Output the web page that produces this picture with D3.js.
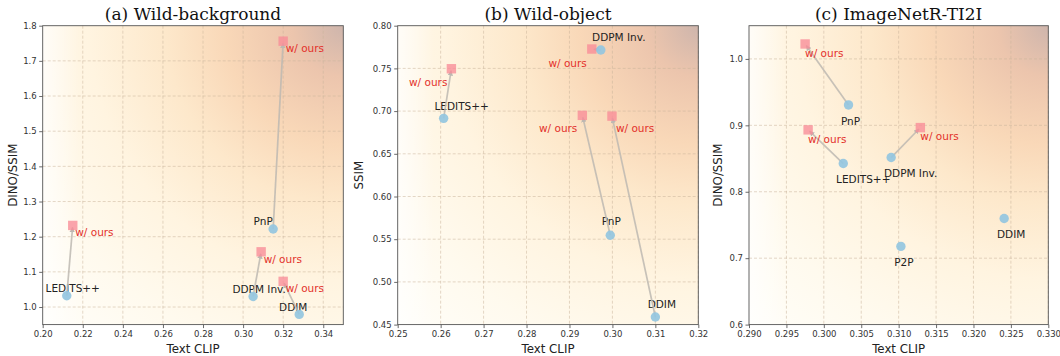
<!DOCTYPE html>
<html>
<head>
<meta charset="utf-8">
<script src="https://cdn.jsdelivr.net/npm/d3@7"></script>
<style>
  body { margin: 0; background: #fff; }
  svg { display: block; }
</style>
</head>
<body>
<svg id="chart" width="1060" height="356"></svg>
<script>
// (a) Wild-background
var methodsA = ['LEDITS++', 'PnP', 'DDPM Inv.', 'DDIM'];
var baseClipA = [0.212, 0.315, 0.305, 0.328];
var baseDinoA = [1.032, 1.222, 1.030, 0.979];
var oursClipA = [0.215, 0.320, 0.309, 0.320];
var oursDinoA = [1.232, 1.756, 1.157, 1.073];
var xTicksA = [0.20, 0.22, 0.24, 0.26, 0.28, 0.30, 0.32, 0.34];
var yTicksA = [1.0, 1.1, 1.2, 1.3, 1.4, 1.5, 1.6, 1.7, 1.8];

// (b) Wild-object
var methodsB = ['LEDITS++', 'DDPM Inv.', 'PnP', 'DDIM'];
var baseClipB = [0.2607, 0.2973, 0.2995, 0.3100];
var baseSsimB = [0.6915, 0.7715, 0.5546, 0.4589];
var oursClipB = [0.2625, 0.2952, 0.2930, 0.2999];
var oursSsimB = [0.7496, 0.7727, 0.6950, 0.6941];
var xTicksB = [0.25, 0.26, 0.27, 0.28, 0.29, 0.30, 0.31, 0.32];
var yTicksB = [0.45, 0.50, 0.55, 0.60, 0.65, 0.70, 0.75, 0.80];

// (c) ImageNetR-TI2I
var methodsC = ['PnP', 'LEDITS++', 'DDPM Inv.', 'P2P', 'DDIM'];
var baseClipC = [0.3033, 0.3026, 0.3090, 0.3103, 0.3241];
var baseDinoC = [0.9307, 0.8425, 0.8515, 0.7177, 0.7598];
var oursClipC = [0.2975, 0.2979, 0.3129, null, null];
var oursDinoC = [1.0225, 0.8932, 0.8966, null, null];
var xTicksC = [0.290, 0.295, 0.300, 0.305, 0.310, 0.315, 0.320, 0.325, 0.330];
var yTicksC = [0.6, 0.7, 0.8, 0.9, 1.0];

var oursLabel = 'w/ ours';

// label placement (pixel offsets from the marker)
var panels = [
  {
    title: '(a) Wild-background', ylabel: 'DINO/SSIM',
    left: 42.7, right: 343.3, ylabelOff: 30,
    xDomain: [0.20, 0.35], yDomain: [0.95, 1.8],
    xTicks: xTicksA, yTicks: yTicksA, xFmt: '.2f', yFmt: '.1f',
    names: methodsA, bx: baseClipA, by: baseDinoA, ox: oursClipA, oy: oursDinoA,
    nameOff: [[6, -3.5, 'middle'], [-10, -3.5, 'middle'], [6, -3.5, 'middle'], [-6, -3.5, 'middle']],
    oursOff: [[2.5, 11, 'start'], [2.5, 11, 'start'], [2.5, 11, 'start'], [2.5, 11, 'start']]
  },
  {
    title: '(b) Wild-object', ylabel: 'SSIM',
    left: 397.7, right: 698.3, ylabelOff: 38.5,
    xDomain: [0.25, 0.32], yDomain: [0.45, 0.80],
    xTicks: xTicksB, yTicks: yTicksB, xFmt: '.2f', yFmt: '.2f',
    names: methodsB, bx: baseClipB, by: baseSsimB, ox: oursClipB, oy: oursSsimB,
    nameOff: [[18, -8, 'middle'], [18, -9, 'middle'], [1, -10, 'middle'], [6.5, -8.5, 'middle']],
    oursOff: [[-4, 17, 'end'], [-5, 18, 'end'], [-5, 17, 'end'], [4, 16, 'start']]
  },
  {
    title: '(c) ImageNetR-TI2I', ylabel: 'DINO/SSIM',
    left: 749, right: 1048.3, ylabelOff: 31,
    xDomain: [0.29, 0.33], yDomain: [0.6, 1.05],
    xTicks: xTicksC, yTicks: yTicksC, xFmt: '.3f', yFmt: '.1f',
    names: methodsC, bx: baseClipC, by: baseDinoC, ox: oursClipC, oy: oursDinoC,
    nameOff: [[2, 20, 'middle'], [20, 19.5, 'middle'], [19.5, 19, 'middle'], [3, 19.5, 'middle'], [7, 19.5, 'middle']],
    oursOff: [[0, 13, 'start'], [0, 12.7, 'start'], [0, 12.3, 'start']]
  }
];

var plotTop = 25.7, plotBottom = 324.6;

var svg = d3.select('#chart');
var defs = svg.append('defs');

defs.append('marker')
  .attr('id', 'arrow')
  .attr('viewBox', '0 0 10 10')
  .attr('refX', 9).attr('refY', 5)
  .attr('markerWidth', 3.2).attr('markerHeight', 3.2)
  .attr('markerUnits', 'strokeWidth')
  .attr('orient', 'auto')
  .append('path')
  .attr('d', 'M0,0 L10,5 L0,10 z')
  .attr('fill', '#bdb8b2');

panels.forEach(function (p, pi) {
  var w = p.right - p.left, h = plotBottom - plotTop;
  var x = d3.scaleLinear().domain(p.xDomain).range([p.left, p.right]);
  var y = d3.scaleLinear().domain(p.yDomain).range([plotBottom, plotTop]);

  // background wash
  var diag = Math.sqrt(w * w + h * h);
  var rg = defs.append('radialGradient')
    .attr('id', 'bg' + pi)
    .attr('gradientUnits', 'userSpaceOnUse')
    .attr('cx', p.right).attr('cy', plotTop).attr('r', diag);
  [[0, '#ceb5ac'], [0.12, '#ecc5ad'], [0.28, '#f9d8b8'], [0.42, '#fde8cb'], [0.6, '#fff4e0'], [0.8, '#fffaee'], [1, '#fffef9']]
    .forEach(function (s) { rg.append('stop').attr('offset', s[0]).attr('stop-color', s[1]); });
  var lg = defs.append('linearGradient').attr('id', 'edge' + pi)
    .attr('x1', 0).attr('x2', 1).attr('y1', 0).attr('y2', 0);
  lg.append('stop').attr('offset', 0).attr('stop-color', '#fff').attr('stop-opacity', 0.7);
  lg.append('stop').attr('offset', 0.12).attr('stop-color', '#fff').attr('stop-opacity', 0);

  var g = svg.append('g');
  g.append('rect').attr('x', p.left).attr('y', plotTop).attr('width', w).attr('height', h)
    .attr('fill', 'url(#bg' + pi + ')');
  g.append('rect').attr('x', p.left).attr('y', plotTop).attr('width', w).attr('height', h)
    .attr('fill', 'url(#edge' + pi + ')');

  // grid
  g.selectAll('.gx').data(p.xTicks.slice(1)).enter().append('line')
    .attr('x1', d => x(d)).attr('x2', d => x(d)).attr('y1', plotTop).attr('y2', plotBottom)
    .attr('stroke', '#c9b39a').attr('stroke-opacity', 0.65).attr('stroke-width', 0.8)
    .attr('stroke-dasharray', '3,2');
  g.selectAll('.gy').data(p.yTicks.filter(d => y(d) > plotTop + 1 && y(d) < plotBottom - 1)).enter().append('line')
    .attr('y1', d => y(d)).attr('y2', d => y(d)).attr('x1', p.left).attr('x2', p.right)
    .attr('stroke', '#c9b39a').attr('stroke-opacity', 0.65).attr('stroke-width', 0.8)
    .attr('stroke-dasharray', '3,2');

  // method labels
  p.names.forEach(function (n, i) {
    g.append('text')
      .attr('x', x(p.bx[i]) + p.nameOff[i][0])
      .attr('y', y(p.by[i]) + p.nameOff[i][1])
      .attr('text-anchor', p.nameOff[i][2])
      .attr('font-family', 'DejaVu Sans').attr('font-size', 10.5).attr('fill', '#222')
      .text(n);
  });

  // arrows base -> ours
  p.names.forEach(function (n, i) {
    if (p.ox[i] == null) return;
    var x1 = x(p.bx[i]), y1 = y(p.by[i]), x2 = x(p.ox[i]), y2 = y(p.oy[i]);
    var len = Math.sqrt((x2 - x1) * (x2 - x1) + (y2 - y1) * (y2 - y1));
    var k = (len - 2) / len;
    g.append('line')
      .attr('x1', x1).attr('y1', y1)
      .attr('x2', x1 + (x2 - x1) * k).attr('y2', y1 + (y2 - y1) * k)
      .attr('stroke', '#bdb8b2').attr('stroke-opacity', 0.85).attr('stroke-width', 1.7)
      .attr('marker-end', 'url(#arrow)');
  });

  // ours squares
  p.names.forEach(function (n, i) {
    if (p.ox[i] == null) return;
    g.append('rect')
      .attr('x', x(p.ox[i]) - 4.7).attr('y', y(p.oy[i]) - 4.7)
      .attr('width', 9.4).attr('height', 9.4)
      .attr('fill', '#f98c97').attr('fill-opacity', 0.78);
    g.append('text')
      .attr('x', x(p.ox[i]) + p.oursOff[i][0])
      .attr('y', y(p.oy[i]) + p.oursOff[i][1])
      .attr('text-anchor', p.oursOff[i][2])
      .attr('font-family', 'DejaVu Sans').attr('font-size', 10.5).attr('fill', '#e3312b')
      .text(oursLabel);
  });

  // base circles
  g.selectAll('.base').data(p.names).enter().append('circle')
    .attr('cx', (d, i) => x(p.bx[i])).attr('cy', (d, i) => y(p.by[i]))
    .attr('r', 4.7).attr('fill', '#94c5df').attr('fill-opacity', 0.92);

  // axes
  var xAxis = g.append('g').attr('transform', 'translate(0,' + plotBottom + ')')
    .call(d3.axisBottom(x).tickValues(p.xTicks).tickFormat(d3.format(p.xFmt)).tickSize(3.5).tickPadding(2.5));
  var yAxis = g.append('g').attr('transform', 'translate(' + p.left + ',0)')
    .call(d3.axisLeft(y).tickValues(p.yTicks).tickFormat(d3.format(p.yFmt)).tickSize(3.5).tickPadding(2.5));
  [xAxis, yAxis].forEach(function (a) {
    a.select('.domain').remove();
    a.selectAll('line').attr('stroke', '#444').attr('stroke-width', 0.8);
    a.selectAll('text').attr('font-family', 'DejaVu Sans').attr('font-size', 8.5).attr('fill', '#333');
  });

  g.append('rect').attr('x', p.left).attr('y', plotTop).attr('width', w).attr('height', h)
    .attr('fill', 'none').attr('stroke', '#555').attr('stroke-width', 0.9);

  // titles and axis labels
  g.append('text')
    .attr('x', (p.left + p.right) / 2).attr('y', 19.5)
    .attr('text-anchor', 'middle')
    .attr('font-family', 'DejaVu Serif').attr('font-size', 17).attr('fill', '#111')
    .text(p.title);
  g.append('text')
    .attr('x', (p.left + p.right) / 2).attr('y', 352.5)
    .attr('text-anchor', 'middle')
    .attr('font-family', 'DejaVu Sans').attr('font-size', 11.8).attr('fill', '#222')
    .text('Text CLIP');
  g.append('text')
    .attr('transform', 'translate(' + (p.left - p.ylabelOff + 4) + ',' + (plotTop + plotBottom) / 2 + ') rotate(-90)')
    .attr('text-anchor', 'middle')
    .attr('font-family', 'DejaVu Sans').attr('font-size', 11.8).attr('fill', '#222')
    .text(p.ylabel);
});
</script>
</body>
</html>
